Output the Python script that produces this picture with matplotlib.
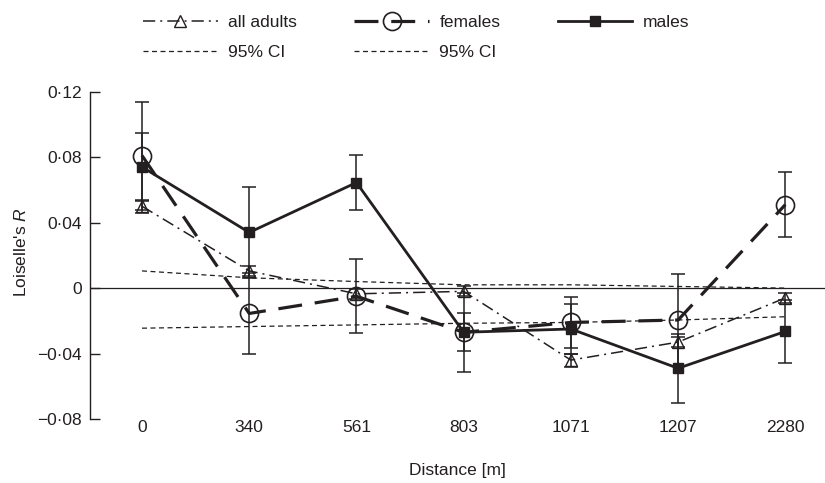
import matplotlib
matplotlib.use("Agg")
import matplotlib.pyplot as plt

plt.rcParams["font.family"] = ["Liberation Sans", "DejaVu Sans"]
plt.rcParams["mathtext.fontset"] = "custom"
plt.rcParams["mathtext.it"] = "Liberation Sans:italic"

INK = "#231f20"

# distance classes (m)
distances = ["0", "340", "561", "803", "1071", "1207", "2280"]

# Loiselle's R per class
all_adults = [0.050, 0.0105, -0.0035, -0.002, -0.044, -0.033, -0.006]
all_err = [0.004, 0.003, 0.003, 0.003, 0.004, 0.003, 0.003]
females = [0.081, -0.0155, -0.005, -0.027, -0.021, -0.0195, 0.051]
fem_err = [0.033, 0.0245, 0.0225, 0.0115, 0.0155, 0.028, 0.020]
males = [0.074, 0.034, 0.0645, -0.027, -0.025, -0.049, -0.0265]
male_err = [0.021, 0.028, 0.017, 0.024, 0.0155, 0.021, 0.019]

# 95% CI envelope
ci_upper = [0.0105, 0.0063, 0.004, 0.002, 0.002, 0.001, 0.0]
ci_lower = [-0.0245, -0.0235, -0.0225, -0.0215, -0.021, -0.0195, -0.0175]

yticks = [0.12, 0.08, 0.04, 0, -0.04, -0.08]
ytick_labels = ["0\u00b712", "0\u00b708", "0\u00b704", "0", "\u22120\u00b704", "\u22120\u00b708"]

x = list(range(len(distances)))

fig = plt.figure(figsize=(8.25, 4.83), dpi=100)
ax = fig.add_axes([0.1091, 0.1325, 0.8909, 0.6776])

ci1, = ax.plot(x, ci_upper, color=INK, lw=0.9, dashes=(4, 2.8), label="95% CI")
ci2, = ax.plot(x, ci_lower, color=INK, lw=0.9, dashes=(4, 2.8), label="95% CI")
ax.axhline(0, color=INK, lw=0.9)

for vals, err in [(all_adults, all_err), (females, fem_err), (males, male_err)]:
    ax.errorbar(x, vals, yerr=err, fmt="none", ecolor=INK, elinewidth=1.1,
                capsize=4.7, capthick=1.1)

h_all, = ax.plot(x, all_adults, color=INK, lw=1.1, dashes=(8, 3.3, 1.3, 3.3),
                 marker="^", markersize=8, markerfacecolor="none",
                 markeredgecolor=INK, markeredgewidth=1.0, label="all adults")
h_fem, = ax.plot(x, females, color=INK, lw=2.3, dashes=(7.5, 4),
                 marker="o", markersize=13, markerfacecolor="none",
                 markeredgecolor=INK, markeredgewidth=1.2, label="females")
h_male, = ax.plot(x, males, color=INK, lw=2.0, marker="s", markersize=7.5,
                  markerfacecolor=INK, markeredgecolor=INK, label="males")

ax.set_xlim(-0.485, 6.37)
ax.set_ylim(-0.08, 0.12)
ax.set_xticks(x)
ax.set_xticklabels(distances)
ax.set_yticks(yticks)
ax.set_yticklabels(ytick_labels)
ax.tick_params(axis="x", length=0, pad=1, labelsize=12.5, colors=INK)
ax.tick_params(axis="y", direction="in", length=7.2, width=1.0, pad=6,
               labelsize=12.5, colors=INK)

for s in ["top", "right", "bottom"]:
    ax.spines[s].set_visible(False)
ax.spines["left"].set_linewidth(1.0)
ax.spines["left"].set_color(INK)

ax.set_xlabel("Distance [m]", fontsize=12.5, color=INK)
ax.xaxis.set_label_coords(0.5, -0.134)
ax.set_ylabel("Loiselle's $R$", fontsize=12.5, color=INK)
ax.yaxis.set_label_coords(-0.083, 0.51)

fig.legend([h_all, ci1, h_fem, ci2, h_male],
           ["all adults", "95% CI", "females", "95% CI", "males"],
           ncol=3, frameon=False, loc="upper left",
           bbox_to_anchor=(143 / 825, 1 - 15 / 483), borderaxespad=0,
           borderpad=0, handlelength=4.3, handletextpad=0.6,
           columnspacing=3.3, labelspacing=0.85, fontsize=12.5,
           labelcolor=INK)

fig.savefig("out.png", dpi=100)
